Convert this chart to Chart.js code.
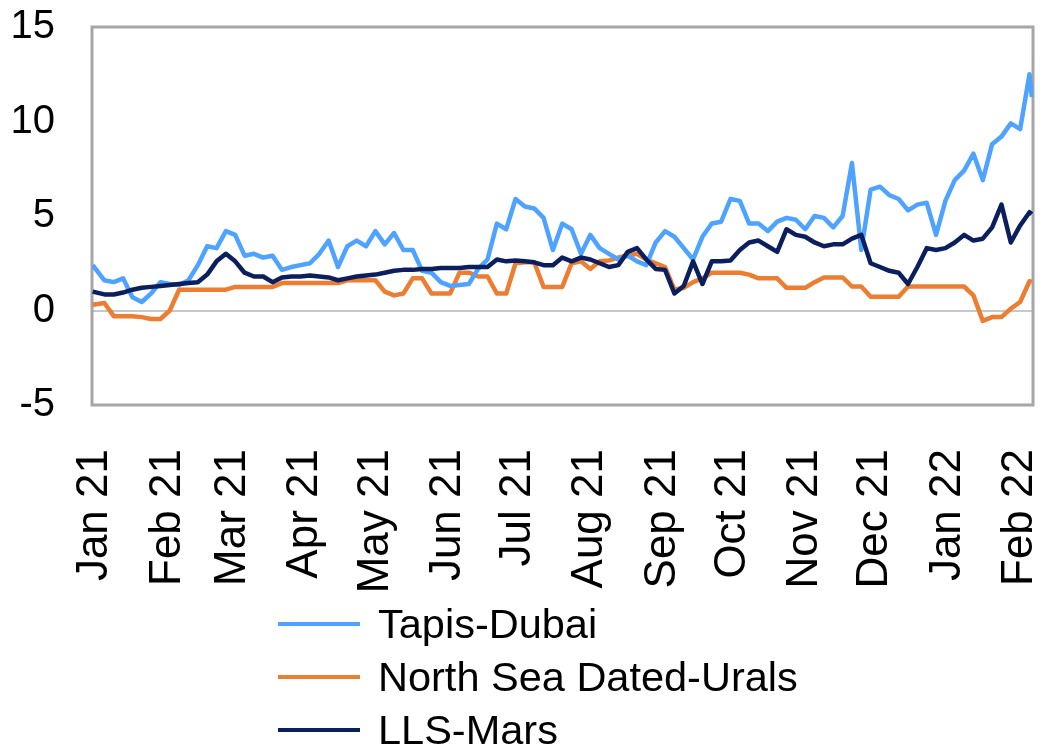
<!DOCTYPE html>
<html>
<head>
<meta charset="utf-8">
<script src="https://cdn.jsdelivr.net/npm/chart.js@4/dist/chart.umd.min.js"></script>
<style>
  html, body { margin: 0; padding: 0; background: #fff; }
  #wrap { position: relative; width: 1046px; height: 753px; }
  #legend { position: absolute; left: 278px; top: 597px; font-family: "Liberation Sans", Arial, sans-serif; font-size: 41.5px; color: #000; }
  .item { height: 53px; display: flex; align-items: center; }
  .swatch { width: 82px; height: 4px; margin-right: 18px; }
</style>
</head>
<body>
<div id="wrap">
  <canvas id="myChart" width="1046" height="753"></canvas>
  <div id="legend"></div>
</div>
<script>
// spread data, $/bbl, sampled every few days (day 0 = 1 Jan 2021)
var days = [-1, 4, 8, 12, 16, 20, 24, 28, 32, 36, 40, 44, 48, 52, 56, 60, 64, 68, 72, 76,
  80, 84, 88, 92, 96, 100, 104, 108, 112, 116, 120, 124, 128, 132, 136, 140, 144, 148, 152, 156,
  160, 164, 168, 172, 176, 180, 184, 188, 192, 196, 200, 204, 208, 212, 216, 220, 224, 228, 232, 236,
  240, 244, 248, 252, 256, 260, 264, 268, 272, 276, 280, 284, 288, 292, 296, 300, 304, 308, 312, 316,
  320, 324, 328, 332, 336, 340, 344, 348, 352, 356, 360, 364, 368, 372, 376, 380, 384, 388, 392, 396,
  400, 401];

var tapisDubai = [2.4, 1.6, 1.5, 1.7, 0.7, 0.45, 0.9, 1.5, 1.4, 1.35, 1.6, 2.4, 3.4, 3.3, 4.2, 4.0, 2.9, 3.0, 2.8, 2.9,
  2.15, 2.3, 2.4, 2.5, 3.0, 3.7, 2.3, 3.4, 3.7, 3.4, 4.2, 3.5, 4.1, 3.2, 3.2, 2.1, 2.0, 1.5, 1.3, 1.35,
  1.4, 2.2, 2.7, 4.6, 4.3, 5.9, 5.5, 5.4, 4.9, 3.2, 4.6, 4.3, 3.0, 4.0, 3.3, 3.0, 2.7, 2.9, 2.6, 2.4,
  3.6, 4.2, 3.9, 3.3, 2.7, 3.9, 4.6, 4.7, 5.9, 5.8, 4.6, 4.6, 4.2, 4.7, 4.9, 4.8, 4.3, 5.0, 4.9, 4.4,
  5.0, 7.8, 3.2, 6.4, 6.55, 6.1, 5.9, 5.3, 5.6, 5.7, 4.0, 5.8, 6.9, 7.4, 8.3, 6.9, 8.8, 9.2, 9.9, 9.6,
  12.5, 11.3];

var northSeaUrals = [0.3, 0.4, -0.3, -0.3, -0.3, -0.35, -0.45, -0.45, 0.0, 1.1, 1.1, 1.1, 1.1, 1.1, 1.1, 1.25, 1.25, 1.25, 1.25, 1.25,
  1.45, 1.45, 1.45, 1.45, 1.45, 1.45, 1.45, 1.6, 1.6, 1.6, 1.6, 1.0, 0.8, 0.9, 1.7, 1.7, 0.9, 0.9, 0.9, 2.0,
  2.0, 1.8, 1.8, 0.9, 0.9, 2.5, 2.55, 2.55, 1.25, 1.25, 1.25, 2.5, 2.6, 2.2, 2.6, 2.65, 2.8, 2.9, 3.0, 2.7,
  2.5, 2.3, 1.1, 1.2, 1.5, 1.7, 2.0, 2.0, 2.0, 2.0, 1.9, 1.7, 1.7, 1.7, 1.2, 1.2, 1.2, 1.5, 1.75, 1.75,
  1.75, 1.27, 1.27, 0.73, 0.73, 0.73, 0.73, 1.27, 1.27, 1.27, 1.27, 1.27, 1.27, 1.27, 0.8, -0.55, -0.35, -0.35, 0.1, 0.45,
  1.55, 1.5];

var llsMars = [1.0, 0.85, 0.85, 0.95, 1.1, 1.2, 1.25, 1.3, 1.35, 1.4, 1.45, 1.5, 1.9, 2.6, 3.0, 2.6, 2.0, 1.8, 1.8, 1.5,
  1.75, 1.8, 1.8, 1.85, 1.8, 1.75, 1.6, 1.7, 1.8, 1.85, 1.9, 2.0, 2.1, 2.15, 2.15, 2.2, 2.2, 2.25, 2.25, 2.25,
  2.3, 2.3, 2.3, 2.7, 2.6, 2.65, 2.6, 2.55, 2.4, 2.4, 2.8, 2.6, 2.8, 2.7, 2.5, 2.3, 2.4, 3.1, 3.3, 2.7,
  2.2, 2.15, 0.9, 1.3, 2.6, 1.4, 2.6, 2.6, 2.65, 3.2, 3.6, 3.7, 3.4, 3.1, 4.3, 4.0, 3.9, 3.6, 3.4, 3.5,
  3.5, 3.8, 4.0, 2.5, 2.3, 2.1, 2.0, 1.4, 2.3, 3.3, 3.2, 3.3, 3.6, 4.0, 3.7, 3.8, 4.4, 5.6, 3.6, 4.5,
  5.2, 5.1];

// x axis labels sit on the first day of each month
var monthStarts = [0, 31, 59, 90, 120, 151, 181, 212, 243, 273, 304, 334, 365, 396];
var monthLabels = ['Jan 21', 'Feb 21', 'Mar 21', 'Apr 21', 'May 21', 'Jun 21', 'Jul 21',
  'Aug 21', 'Sep 21', 'Oct 21', 'Nov 21', 'Dec 21', 'Jan 22', 'Feb 22'];

var seriesNames = ['Tapis-Dubai', 'North Sea Dated-Urals', 'LLS-Mars'];
var seriesColors = ['#4da3ff', '#ed7d31', '#0b1f5e'];

function toPoints(vals) {
  return vals.map(function (v, i) { return { x: days[i], y: v }; });
}

var fontFamily = '"Liberation Sans", Arial, sans-serif';

// grey frame round the plot
var frame = {
  id: 'frame',
  beforeDatasetsDraw: function (chart) {
    var a = chart.chartArea;
    var ctx = chart.ctx;
    ctx.save();
    ctx.strokeStyle = '#a6a6a6';
    ctx.lineWidth = 3;
    ctx.strokeRect(a.left, a.top, a.right - a.left, a.bottom - a.top);
    ctx.restore();
  }
};

var allSeries = [tapisDubai, northSeaUrals, llsMars];
var drawOrder = [1, 2, 0];

var datasets = allSeries.map(function (vals, i) {
  return {
    label: seriesNames[i],
    data: toPoints(vals),
    borderColor: seriesColors[i],
    backgroundColor: seriesColors[i],
    borderWidth: 4.5,
    borderJoinStyle: 'round',
    pointRadius: 0,
    tension: 0,
    order: drawOrder[i]
  };
});

var myChart = new Chart(document.getElementById('myChart'), {
  type: 'line',
  data: { datasets: datasets },
  options: {
    responsive: false,
    animation: false,
    layout: { padding: { top: 27, right: 13, bottom: 0, left: 0 } },
    plugins: { legend: { display: false }, tooltip: { enabled: false } },
    scales: {
      x: {
        type: 'linear',
        min: -1.3,
        max: 401.5,
        grid: { display: false, drawTicks: false },
        border: { display: false },
        afterBuildTicks: function (scale) {
          scale.ticks = monthStarts.map(function (d) { return { value: d }; });
        },
        afterFit: function (scale) {
          scale.height = 348;
          scale.paddingLeft = 0;
          scale.paddingRight = 0;
        },
        ticks: {
          autoSkip: false,
          minRotation: 90,
          maxRotation: 90,
          padding: 44,
          color: '#000',
          font: { family: fontFamily, size: 44 },
          callback: function (value) {
            var i = monthStarts.indexOf(value);
            return i >= 0 ? monthLabels[i] : '';
          }
        }
      },
      y: {
        min: -5,
        max: 15,
        border: { display: false },
        grid: {
          drawTicks: false,
          lineWidth: 2,
          color: function (ctx) { return ctx.tick && ctx.tick.value === 0 ? '#c8c8c8' : 'rgba(0,0,0,0)'; }
        },
        afterFit: function (scale) {
          scale.width = 92;
          scale.paddingTop = 0;
          scale.paddingBottom = 0;
        },
        ticks: {
          stepSize: 5,
          padding: 37,
          color: '#000',
          font: { family: fontFamily, size: 40 }
        }
      }
    }
  },
  plugins: [frame]
});

// legend under the chart, one row per series
var legend = document.getElementById('legend');
seriesNames.forEach(function (name, i) {
  var row = document.createElement('div');
  row.className = 'item';
  var sw = document.createElement('span');
  sw.className = 'swatch';
  sw.style.background = seriesColors[i];
  var txt = document.createElement('span');
  txt.textContent = name;
  row.appendChild(sw);
  row.appendChild(txt);
  legend.appendChild(row);
});
</script>
</body>
</html>
